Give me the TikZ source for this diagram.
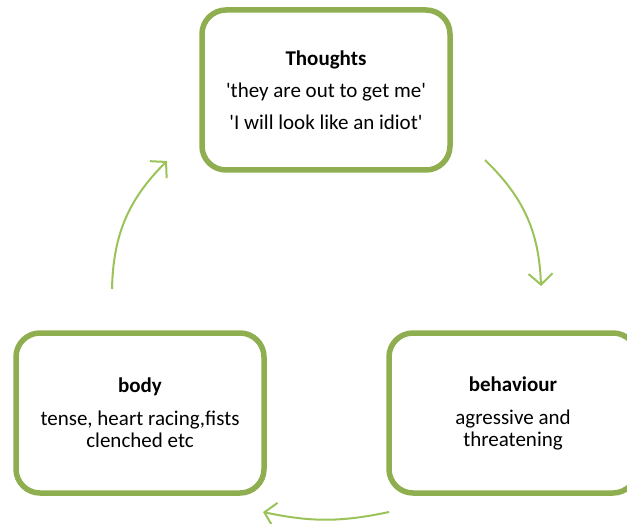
\documentclass[tikz,border=0pt]{standalone}
\usepackage{fontspec}
\setmainfont{Carlito}
\usetikzlibrary{arrows.meta}
\definecolor{boxgreen}{HTML}{8FAE50}
\definecolor{arrowgreen}{HTML}{9BC35A}
\begin{document}
\begin{tikzpicture}[x=1pt, y=-1pt,
box/.style={draw=boxgreen, line width=5.5pt, rounded corners=24pt, fill=white, align=center, minimum width=248pt, minimum height=160pt, font=\fontsize{21}{22}\selectfont},
cyclearrow/.style={draw=arrowgreen, line width=2pt, -{Straight Barb[length=11pt, width=24pt, line width=2pt]}, bend left=22}
]
\useasboundingbox (0,0) rectangle (627,524);
\clip (0,0) rectangle (627,524);
\node[box] (thoughts) at (326,90) {\textbf{Thoughts}\\[10pt]\textquotesingle they are out to get me\textquotesingle\\[10pt]\textquotesingle I will look like an idiot\textquotesingle};
\node[box] (body) at (140,413) {\textbf{body}\\[11pt]tense, heart racing,fists\\clenched etc};
\node[box] (behaviour) at (513,413) {\textbf{behaviour}\\[11pt]agressive and\\threatening};
\coordinate (bodyout) at (112,289);
\coordinate (thoughtsin) at (167,161);
\coordinate (thoughtsout) at (485,160);
\coordinate (behaviourin) at (541,286);
\coordinate (behaviourout) at (389,512);
\coordinate (bodyin) at (263,512);
\draw[cyclearrow] (bodyout) to (thoughtsin);
\draw[cyclearrow] (thoughtsout) to (behaviourin);
\draw[cyclearrow, bend left=12] (behaviourout) to (bodyin);
\end{tikzpicture}
\end{document}
